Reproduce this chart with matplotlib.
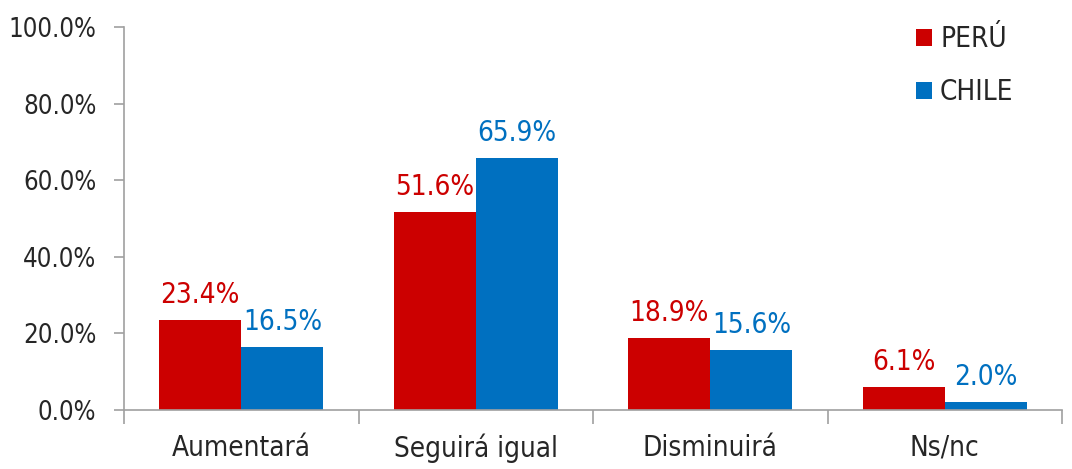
import numpy as np
import matplotlib.pyplot as plt

categorias = ['Aumentará', 'Seguirá igual', 'Disminuirá', 'Ns/nc']
peru = [23.4, 51.6, 18.9, 6.1]
chile = [16.5, 65.9, 15.6, 2.0]

rojo = '#CC0000'
azul = '#0070C0'
gris = '#A0A0A0'
texto = '#262626'

plt.rcParams['font.family'] = ['DejaVu Sans']
plt.rcParams['font.stretch'] = 'condensed'

fig = plt.figure(figsize=(10.72, 4.69), dpi=100)
ax = fig.add_axes([0.1157, 0.1258, 0.875, 0.8166])

x = np.arange(len(categorias))
w = 0.35

b1 = ax.bar(x - w / 2, peru, w, color=rojo, label='PERÚ')
b2 = ax.bar(x + w / 2, chile, w, color=azul, label='CHILE')

# etiquetas de datos
for barras, col in [(b1, rojo), (b2, azul)]:
    for b in barras:
        h = b.get_height()
        ax.annotate('%.1f%%' % h, (b.get_x() + b.get_width() / 2, h),
                    xytext=(0, 8), textcoords='offset points',
                    ha='center', va='bottom', fontsize=20, color=col)

ax.set_xlim(-0.5, len(categorias) - 0.5)
ax.set_ylim(0, 100)
ax.set_yticks(np.arange(0, 101, 20))
ax.set_yticklabels(['%.1f%%' % v for v in np.arange(0, 101, 20)])

# ticks del eje x en los limites de las categorias
ax.set_xticks(np.arange(-0.5, len(categorias), 1))
ax.set_xticklabels([])
ax.set_xticks(x, minor=True)
ax.set_xticklabels(categorias, minor=True)
ax.tick_params(axis='x', which='major', length=10, color=gris, width=1.2)
ax.tick_params(axis='x', which='minor', length=0, pad=17, labelsize=20, labelcolor=texto)
ax.tick_params(axis='y', length=7, color=gris, width=1.2, labelsize=18.5, labelcolor=texto, pad=13)

for s in ['top', 'right']:
    ax.spines[s].set_visible(False)
for s in ['left', 'bottom']:
    ax.spines[s].set_color(gris)
    ax.spines[s].set_linewidth(1.2)

leg = ax.legend(loc='upper right', bbox_to_anchor=(0.975, 1.07), frameon=False,
                fontsize=20, handlelength=0.55, handleheight=0.55, handletextpad=0.3,
                labelspacing=0.9)
for t in leg.get_texts():
    t.set_color(texto)

fig.savefig('out.png', dpi=100)
